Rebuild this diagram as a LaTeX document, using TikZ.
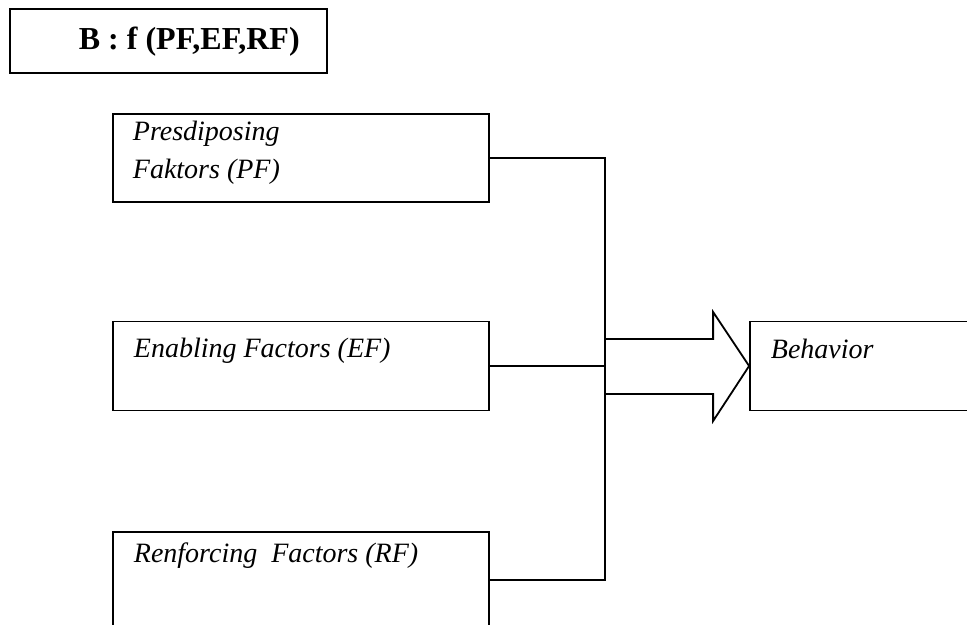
\documentclass[tikz,border=0pt]{standalone}
\usepackage{fontspec}
\setmainfont{Liberation Serif}
\usetikzlibrary{calc, positioning}

\begin{document}
\begin{tikzpicture}[x=0.5pt, y=-0.5pt, line width=0.9pt,
    box/.style={draw, rectangle, inner sep=0pt},
    lbl/.style={inner sep=0pt, anchor=base west, align=left,
        font=\fontsize{14}{19}\selectfont\itshape}]
    \clip (0,0) rectangle (967,625);

    % rumus
    \node[box, minimum width=158.5pt, minimum height=32pt] (rumus) at (168.5,41) {};
    \node[lbl, font=\fontsize{16}{19}\selectfont\bfseries] at (78,50) {B : f (PF,EF,RF)};

    % faktor-faktor
    \node[box, minimum width=188pt, minimum height=44pt] (pf) at (301,158) {};
    \node[box, minimum width=188pt, minimum height=44.5pt] (ef) at (301,366) {};
    \node[box, minimum width=188pt, minimum height=48pt] (rf) at (301,580) {};
    \node[box, minimum width=125pt, minimum height=44.5pt] (beh) at (875,366) {};

    \node[lbl] at (132,179) {Presdiposing\\Faktors (PF)};
    \node[lbl] at (133,357) {Enabling Factors (EF)};
    \node[lbl] at (133,562) {Renforcing\ \ Factors (RF)};
    \node[lbl] at (770,358) {Behavior};

    % garis penghubung
    \coordinate (jn) at (605,366);
    \draw (pf.east) -| (jn) |- (rf.east);
    \draw (ef.east) -- (jn);

    % panah besar
    \draw[line join=miter] ($(jn)+(0,-27)$) -- ($(beh.west)+(-36,-27)$)
        -- ($(beh.west)+(-36,-54)$) -- (beh.west)
        -- ($(beh.west)+(-36,55)$) -- ($(beh.west)+(-36,28)$)
        -- ($(jn)+(0,28)$);
\end{tikzpicture}
\end{document}
